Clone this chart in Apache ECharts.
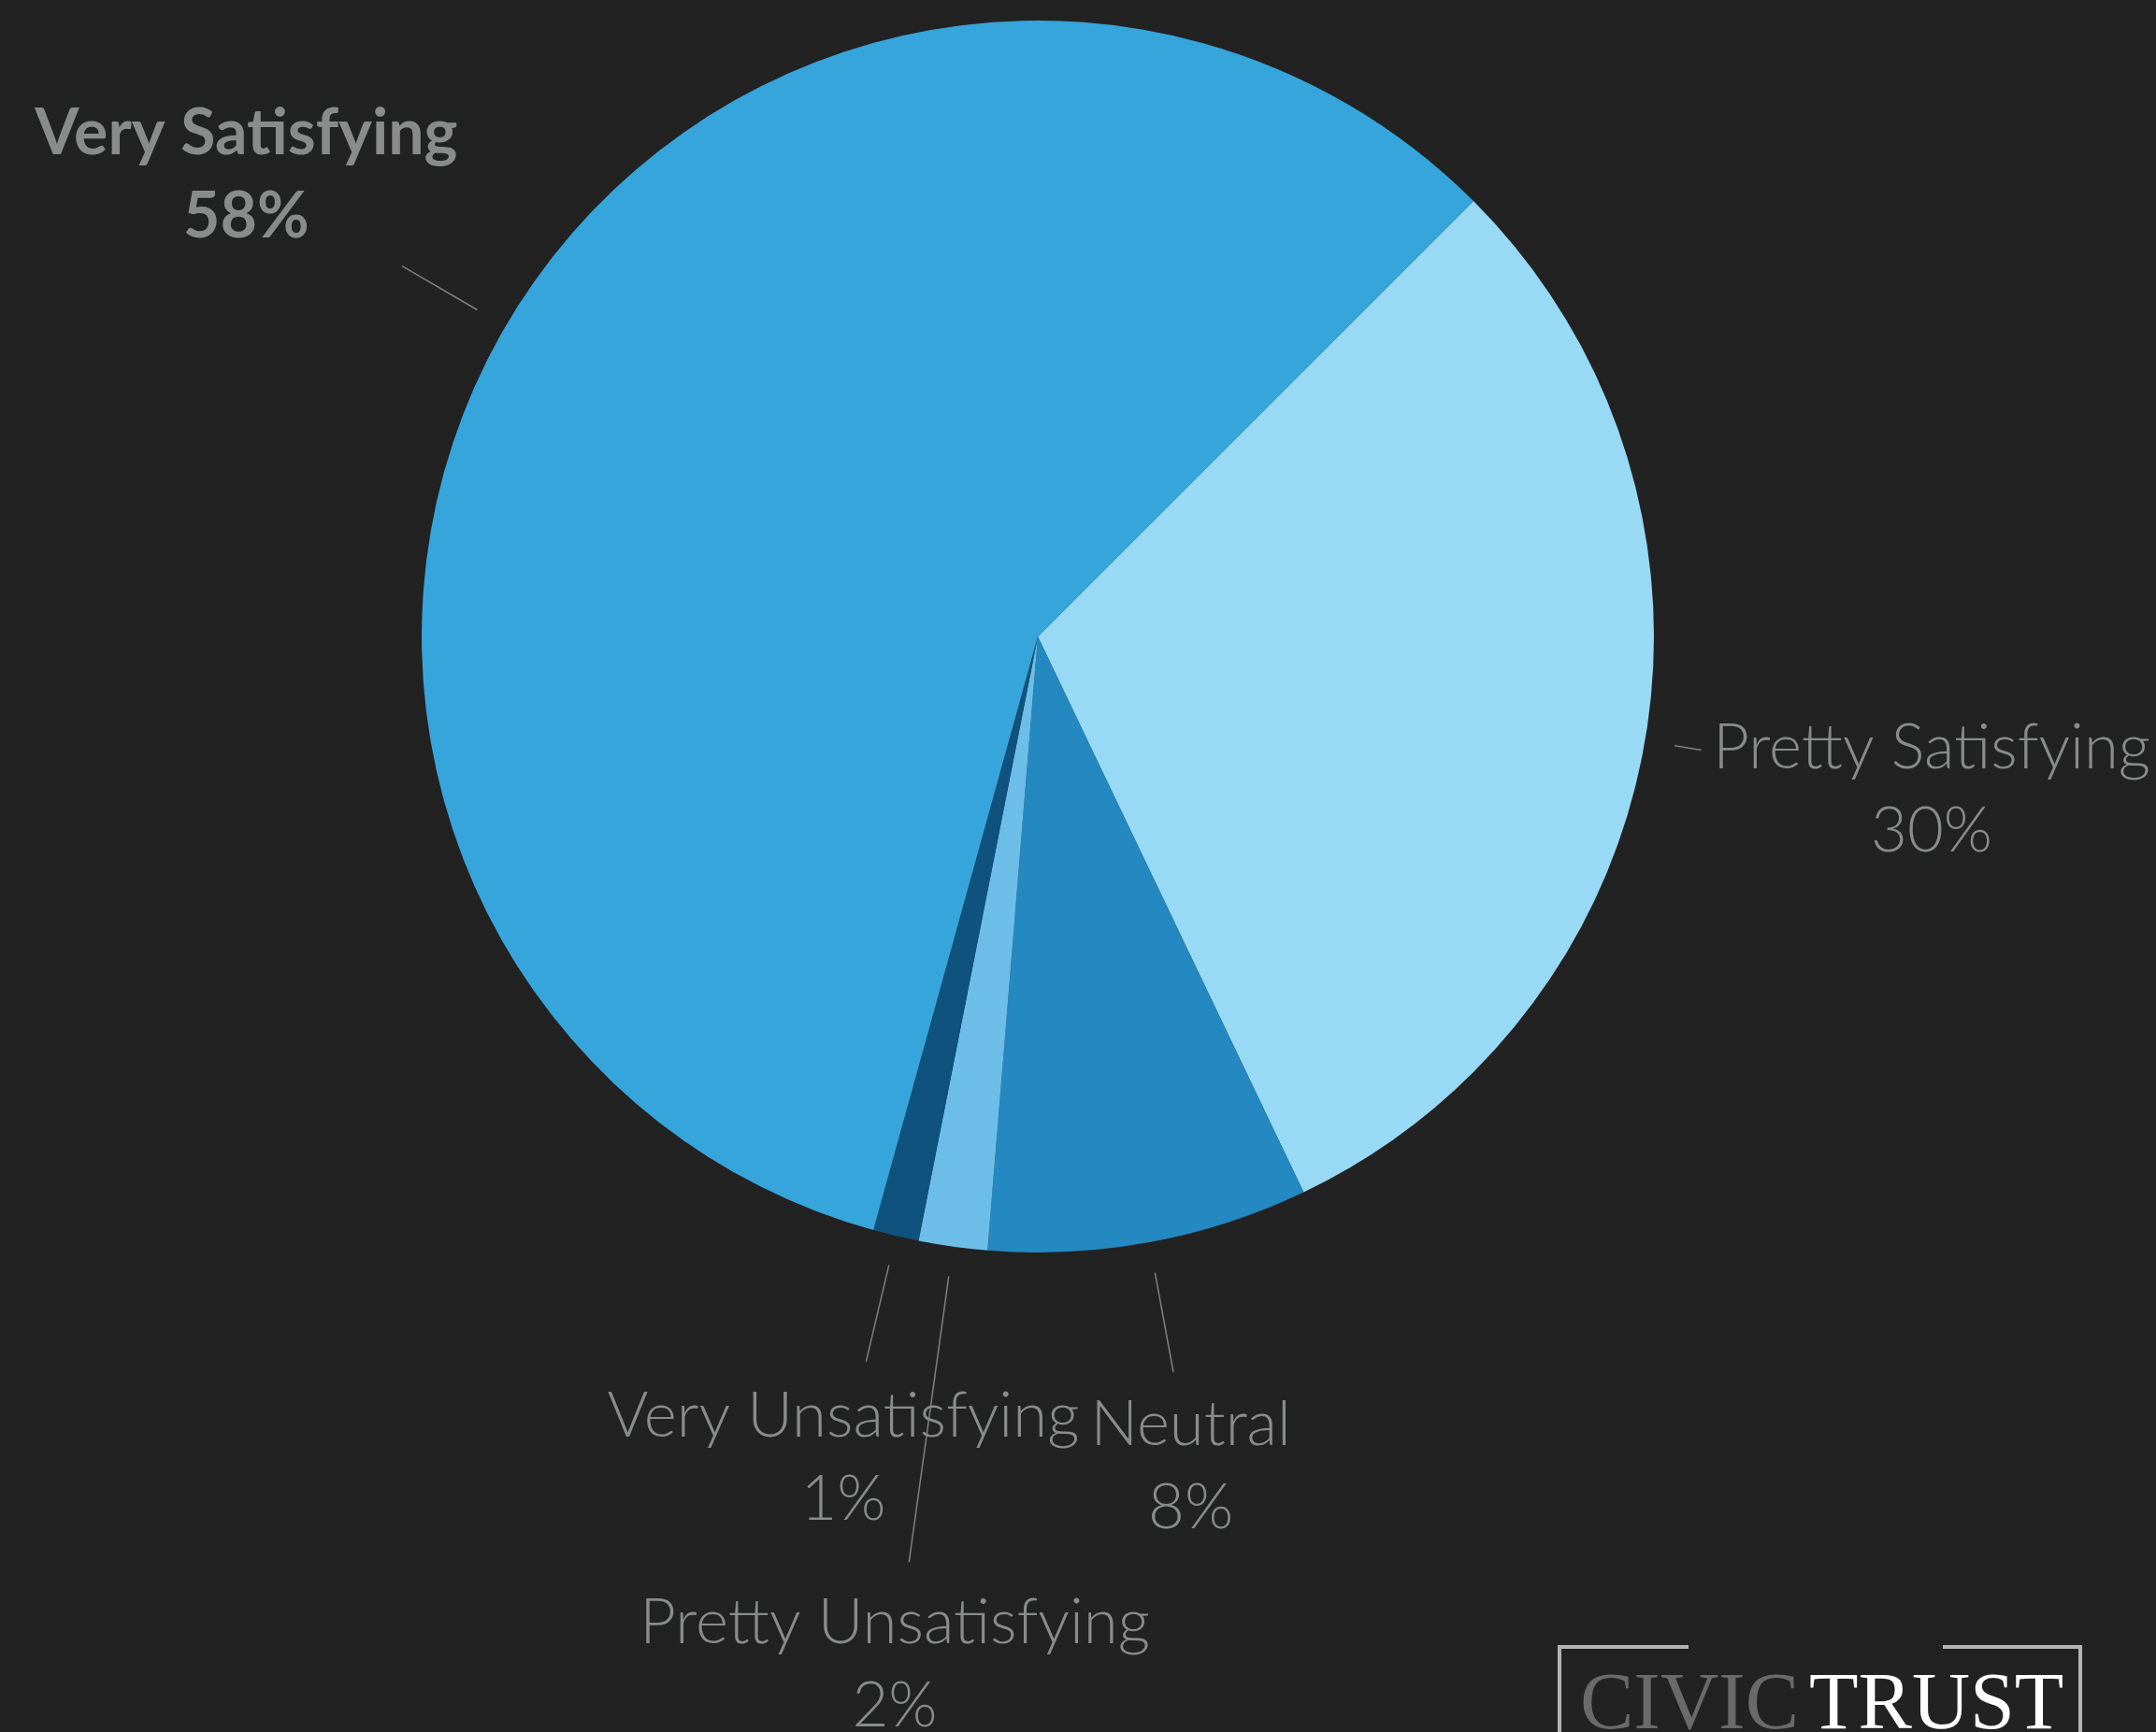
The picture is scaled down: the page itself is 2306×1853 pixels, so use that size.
<!DOCTYPE html>
<html>
<head>
<meta charset="utf-8">
<script src="https://cdn.jsdelivr.net/npm/echarts@6/dist/echarts.min.js"></script>
<style>
html,body{margin:0;padding:0;background:#222222;}
#chart{width:2306px;height:1853px;}
</style>
</head>
<body>
<div id="chart"></div>
<script>
// ---- data ----
var categories = ['Pretty Satisfying', 'Neutral', 'Pretty Unsatisfying', 'Very Unsatisfying', 'Very Satisfying'];
var values = [30.4, 8.4, 1.8, 1.2, 58.2];
var colors = ['#98d9f5', '#2589c1', '#6dbde9', '#10527e', '#36a5dc'];

// ---- label layout (style): radial distances from pie centre ----
var PIE_CENTER = [1110, 681];
var PIE_RADIUS = 659;
var lineStart = [691, 692, 691, 691, 694];
var lineEnd   = [720, 800, 1000, 797, 787];
var labelDist = [970, 903, 1110, 903, 980];

var chart = echarts.init(document.getElementById('chart'));

function midAngleDir(idx, pts) {
  if (pts && pts.length) {
    var dx = pts[0][0] - PIE_CENTER[0], dy = pts[0][1] - PIE_CENTER[1];
    var d = Math.sqrt(dx * dx + dy * dy);
    if (d > 1) return [dx / d, dy / d];
  }
  var total = values.reduce(function (a, b) { return a + b; }, 0);
  var cum = 0;
  for (var i = 0; i < idx; i++) cum += values[i];
  var mid = cum + values[idx] / 2;
  var ang = (45 - mid / total * 360) * Math.PI / 180;
  return [Math.cos(ang), -Math.sin(ang)];
}

var seriesData = categories.map(function (c, i) {
  var item = { name: c, value: values[i], itemStyle: { color: colors[i] } };
  if (c === 'Very Satisfying') {
    item.label = { fontWeight: 'bold', fontSize: 68 };
  }
  return item;
});

chart.setOption({
  backgroundColor: '#222222',
  animation: false,
  graphic: [
    { type: 'polyline', shape: { points: [[1806, 1762], [1668, 1762], [1668, 1860]] },
      style: { stroke: '#b3b3b3', lineWidth: 4, fill: null } },
    { type: 'polyline', shape: { points: [[2078, 1762], [2225, 1762], [2225, 1860]] },
      style: { stroke: '#b3b3b3', lineWidth: 4, fill: null } },
    { type: 'text', x: 1690, y: 1869,
      style: { text: 'CIVIC', fill: '#6a6a6a', font: '86px "Liberation Serif", "DejaVu Serif", serif', textVerticalAlign: 'bottom' } },
    { type: 'text', x: 1935, y: 1869,
      style: { text: 'TRUST', fill: '#ffffff', font: '86px "Liberation Serif", "DejaVu Serif", serif', textVerticalAlign: 'bottom' } }
  ],
  series: [{
    type: 'pie',
    center: PIE_CENTER,
    radius: PIE_RADIUS,
    startAngle: 45,
    clockwise: true,
    avoidLabelOverlap: false,
    itemStyle: { borderWidth: 0 },
    emphasis: { disabled: true },
    label: {
      show: true,
      position: 'outside',
      color: '#8a8c8c',
      fontFamily: 'Lato, "Noto Sans", sans-serif',
      fontWeight: 300,
      fontSize: 67,
      lineHeight: 89,
      align: 'center',
      formatter: function (p) { return p.name + '\n' + Math.round(p.value) + '%'; }
    },
    labelLine: {
      show: true,
      length: 30,
      length2: 0,
      lineStyle: { color: '#808080', width: 1.5 }
    },
    labelLayout: function (params) {
      var i = params.dataIndex;
      var dir = midAngleDir(i, params.labelLinePoints);
      var cx = PIE_CENTER[0], cy = PIE_CENTER[1];
      return {
        x: cx + dir[0] * labelDist[i],
        y: cy + dir[1] * labelDist[i],
        align: 'center',
        verticalAlign: 'middle',
        labelLinePoints: [
          [cx + dir[0] * lineStart[i], cy + dir[1] * lineStart[i]],
          [cx + dir[0] * lineEnd[i], cy + dir[1] * lineEnd[i]],
          [cx + dir[0] * lineEnd[i], cy + dir[1] * lineEnd[i]]
        ]
      };
    },
    data: seriesData
  }]
});
</script>
</body>
</html>
